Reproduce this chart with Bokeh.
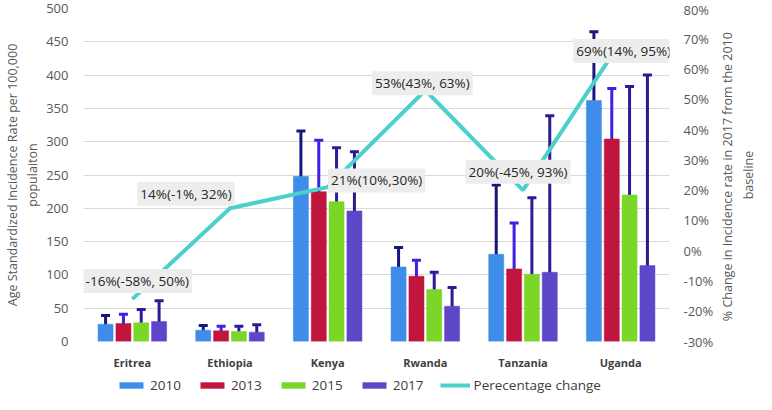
import math
from bokeh.plotting import figure
from bokeh.layouts import row, column
from bokeh.models import (FactorRange, Range1d, LinearAxis, Whisker, TeeHead, ColumnDataSource,
                          Legend, LegendItem, FixedTicker, PrintfTickFormatter)
from bokeh.transform import dodge
from bokeh.core.properties import value
from bokeh.embed import file_html
from bokeh.resources import INLINE

countries = ["Eritrea", "Ethiopia", "Kenya", "Rwanda", "Tanzania", "Uganda"]
years = ["2010", "2013", "2015", "2017"]

rate_2010 = [26, 17, 248, 112, 131, 362]
lo_2010 = [15, 10, 195, 90, 47, 240]
hi_2010 = [39, 24, 316, 141, 235, 465]

rate_2013 = [27, 16, 225, 98, 109, 304]
lo_2013 = [15, 11, 170, 78, 56, 242]
hi_2013 = [41, 23, 302, 122, 178, 380]

rate_2015 = [28, 15, 210, 78, 101, 220]
lo_2015 = [12, 10, 152, 60, 32, 136]
hi_2015 = [48, 23, 291, 104, 216, 383]

rate_2017 = [30, 14, 196, 53, 104, 114]
lo_2017 = [7, 7, 136, 33, 4, 12]
hi_2017 = [61, 25, 285, 81, 339, 400]

pct_change = [-16, 14, 21, 53, 20, 69]
pct_labels = ["-16%(-58%, 50%)", "14%(-1%, 32%)", "21%(10%,30%)",
              "53%(43%, 63%)", "20%(-45%, 93%)", "69%(14%, 95%)"]

left_title = "Age Standardized Incidence Rate per 100,000\npopulaiton"
right_title = "% Change in Incidence rate in 2017 from the  2010\nbaseline"
line_name = "Perecentage change"

# label placement (positions only)
label_y = [-10, 18.8, 23.2, 55.3, 26.1, 66]
label_dx = [5, -44, 49, -3, -5, 3]

rates = {"2010": rate_2010, "2013": rate_2013, "2015": rate_2015, "2017": rate_2017}
los = {"2010": lo_2010, "2013": lo_2013, "2015": lo_2015, "2017": lo_2017}
his = {"2010": hi_2010, "2013": hi_2013, "2015": hi_2015, "2017": hi_2017}

bar_colors = ["#3F8DE8", "#C0163D", "#7BD628", "#5E46C9"]
whisker_colors = ["#16167C", "#3C22E6", "#2A1C9E", "#2A1B8E"]
offsets = [-0.274, -0.091, 0.091, 0.274]
line_color = "#4CD0CB"
FONT = "Open Sans"
GRAY = "#595959"

data = dict(country=countries, pct=pct_change, label=pct_labels, label_y=label_y, label_dx=label_dx)
for yr in years:
    data["r" + yr] = rates[yr]
    data["lo" + yr] = los[yr]
    data["hi" + yr] = his[yr]
src = ColumnDataSource(data)

P_H = 372
T_W = 40
TOP = 8
p = figure(x_range=FactorRange(*countries), y_range=Range1d(0, 500),
           width=756 - T_W, height=P_H, output_backend="svg", toolbar_location=None,
           min_border_top=TOP, min_border_left=30, min_border_right=30, min_border_bottom=10)
p.extra_y_ranges = {"pct": Range1d(-30, 80)}
p.outline_line_color = None
p.background_fill_color = "white"

# grid
p.xgrid.grid_line_color = None
p.ygrid.grid_line_color = "#D9D9D9"
p.ygrid.grid_line_width = 1

# left axis
p.yaxis.ticker = FixedTicker(ticks=list(range(0, 501, 50)))
p.yaxis.axis_line_color = None
p.yaxis.major_tick_line_color = None
p.yaxis.minor_tick_line_color = None
p.yaxis.major_label_text_font = FONT
p.yaxis.major_label_text_font_size = "13px"
p.yaxis.major_label_text_color = GRAY
p.yaxis.major_label_standoff = 9
p.yaxis.axis_label = left_title
p.yaxis.axis_label_text_font = FONT
p.yaxis.axis_label_text_font_size = "12.5px"
p.yaxis.axis_label_text_font_style = "normal"
p.yaxis.axis_label_text_color = GRAY
p.yaxis.axis_label_standoff = 2

# right axis (its title is drawn in the side strip)
ra = LinearAxis(y_range_name="pct", ticker=FixedTicker(ticks=list(range(-30, 81, 10))),
                formatter=PrintfTickFormatter(format="%d%%"))
ra.axis_line_color = None
ra.major_tick_line_color = None
ra.minor_tick_line_color = None
ra.major_label_text_font = FONT
ra.major_label_text_font_size = "13px"
ra.major_label_text_color = GRAY
ra.major_label_standoff = 8
p.add_layout(ra, "right")

# x axis
p.xaxis.axis_line_color = None
p.xaxis.major_tick_line_color = None
p.xaxis.minor_tick_line_color = None
p.xaxis.major_label_text_font = FONT
p.xaxis.major_label_text_font_size = "11px"
p.xaxis.major_label_text_font_style = "bold"
p.xaxis.major_label_text_color = "#404040"
p.xaxis.major_label_standoff = 7

for i, yr in enumerate(years):
    p.vbar(x=dodge("country", offsets[i], range=p.x_range), top="r" + yr, width=0.154,
           source=src, fill_color=bar_colors[i], line_color=bar_colors[i], line_width=0.5)
    wc = whisker_colors[i]
    w = Whisker(source=src, base=dodge("country", offsets[i], range=p.x_range),
                upper="hi" + yr, lower="lo" + yr, line_color=wc, line_width=3,
                upper_head=TeeHead(size=9, line_color=wc, line_width=3),
                lower_head=TeeHead(size=9, line_color=wc, line_width=3))
    p.add_layout(w)

p.line(x="country", y="pct", source=src, y_range_name="pct",
       line_color=line_color, line_width=4)

p.text(x="country", y="label_y", text="label", source=src, y_range_name="pct",
       x_offset="label_dx", text_align="center", text_baseline="middle",
       text_font=value(FONT), text_font_size="13.5px", text_color="#262626",
       background_fill_color="#EDEDED", padding=3)

# side strip carrying the right axis title as an axis label (reads bottom to top)
t = figure(width=T_W, height=P_H, output_backend="svg", toolbar_location=None,
           x_range=Range1d(0, 1), y_range=Range1d(0, 1),
           x_axis_location=None, y_axis_location="left",
           min_border_left=0, min_border_right=0, min_border_top=TOP, min_border_bottom=25)
t.grid.visible = False
t.outline_line_color = None
t.yaxis.ticker = FixedTicker(ticks=[])
t.yaxis.axis_line_color = None
t.yaxis.major_tick_line_color = None
t.yaxis.minor_tick_line_color = None
t.yaxis.major_label_text_font_size = "0px"
t.yaxis.major_label_standoff = 0
t.yaxis.axis_label = right_title
t.yaxis.axis_label_text_font = FONT
t.yaxis.axis_label_text_font_size = "12.5px"
t.yaxis.axis_label_text_font_style = "normal"
t.yaxis.axis_label_text_color = GRAY
t.yaxis.axis_label_standoff = 0

# legend strip: proxy renderers of zero size, used only for the legend swatches
lf = figure(width=756, height=394 - P_H, output_backend="svg", toolbar_location=None,
            x_range=Range1d(0, 1), y_range=Range1d(0, 1),
            x_axis_location=None, y_axis_location=None, min_border=0)
lf.grid.visible = False
lf.outline_line_color = None
items = []
for i, yr in enumerate(years):
    r = lf.vbar(x=[0], top=[0], bottom=[0], width=0, fill_color=bar_colors[i],
                line_color=bar_colors[i], line_width=0)
    items.append(LegendItem(label=yr, renderers=[r]))
lr = lf.line(x=[0], y=[0], line_color=line_color, line_width=4)
items.append(LegendItem(label=line_name, renderers=[lr]))
legend = Legend(items=items, orientation="horizontal", location=(116, 0),
                glyph_width=30, glyph_height=8, label_standoff=4, spacing=16,
                border_line_color=None, background_fill_alpha=0,
                label_text_font=FONT, label_text_font_size="13.5px",
                label_text_color="#404040", margin=0, padding=1)
lf.add_layout(legend)

layout = column(row(p, t), lf)
open("out.html", "w").write(file_html(layout, INLINE))
